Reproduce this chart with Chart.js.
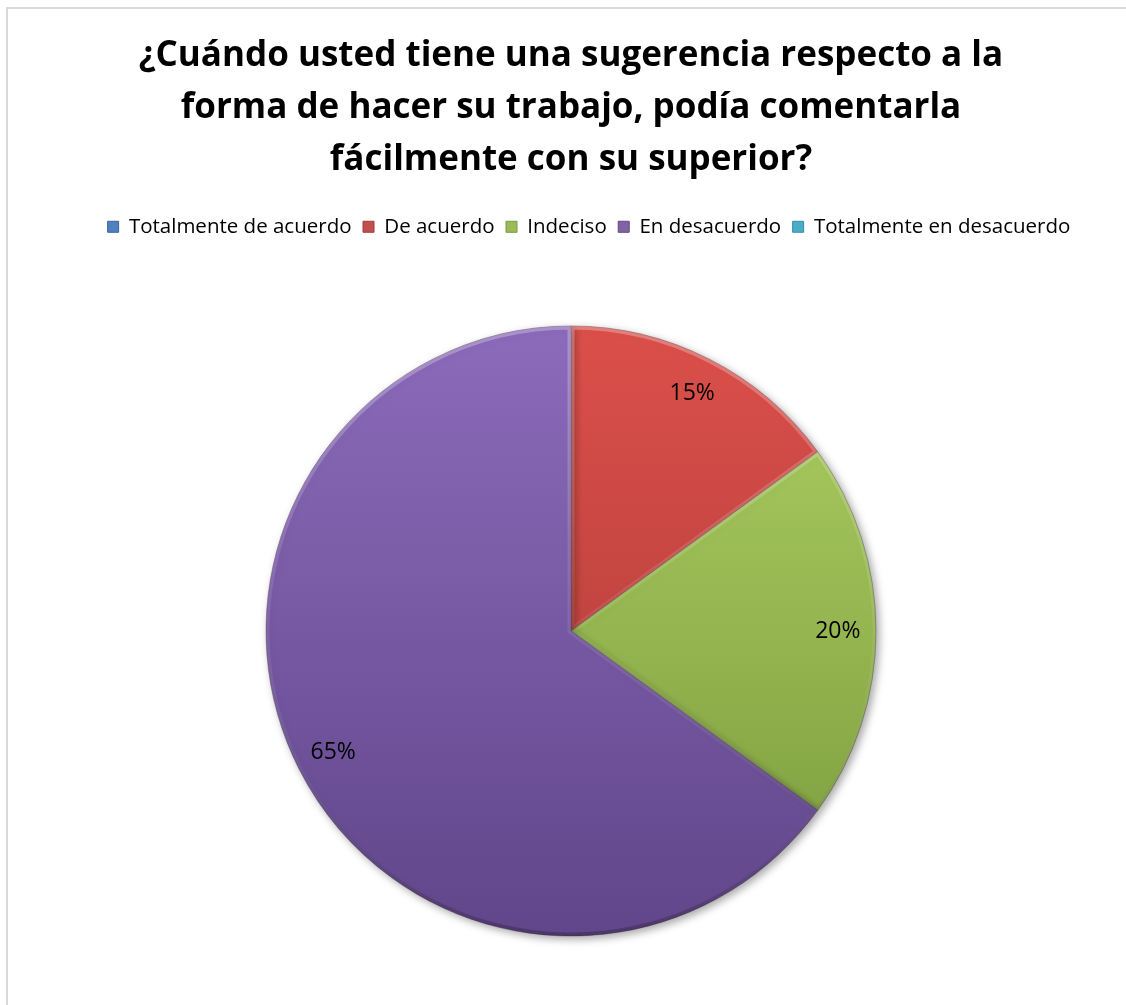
<!DOCTYPE html>
<html>
<head>
<meta charset="utf-8">
<script src="https://cdn.jsdelivr.net/npm/chart.js@4/dist/chart.umd.min.js"></script>
<style>
  body { margin: 0; background: #fff; overflow: hidden; }
  #frame { position: absolute; left: 6px; top: 7px; width: 1200px; height: 1100px; border: 2px solid #d9d9d9; }
  #wrap { position: absolute; left: 0; top: 0; width: 1126px; height: 1015px; }
</style>
</head>
<body>
<div id="frame"></div>
<div id="wrap"><canvas id="myChart"></canvas></div>
<script>
var categories = ["Totalmente de acuerdo", "De acuerdo", "Indeciso", "En desacuerdo", "Totalmente en desacuerdo"]
var percents = [0, 15, 20, 65, 0]
var titleLines = ["¿Cuándo usted tiene una sugerencia respecto a la", "forma de hacer su trabajo, podía comentarla", "fácilmente con su superior?"]

// flat colours for the legend, light/dark pairs for the slice shading
var flat = ["#4f81bd", "#c0504d", "#9bbb59", "#8064a2", "#4bacc6"]
var light = ["#6b9bd6", "#dc4f4a", "#aed063", "#8b6bbb", "#66c4dd"]
var dark = ["#3a6497", "#a63a37", "#7a9a3c", "#61468a", "#348da5"]

function shade(ctx) {
  var area = ctx.chart.chartArea
  if (!area) return flat[ctx.dataIndex]
  var cy = (area.top + area.bottom) / 2
  var g = ctx.chart.ctx.createLinearGradient(0, cy - 305, 0, cy + 305)
  g.addColorStop(0, light[ctx.dataIndex])
  g.addColorStop(1, dark[ctx.dataIndex])
  return g
}

// legend row sits a little right of the title's centre
var legendNudge = {
  id: "legendNudge",
  afterLayout: function(chart) {
    chart.legend.left += 18
    chart.legend.right += 18
  }
}

// soft drop shadow under the pie
var pieShadow = {
  id: "pieShadow",
  beforeDatasetsDraw: function(chart) {
    var c = chart.ctx
    c.save()
    c.shadowColor = "rgba(0,0,0,0.35)"
    c.shadowBlur = 8
    c.shadowOffsetX = 3
    c.shadowOffsetY = 3
  },
  afterDatasetsDraw: function(chart) {
    chart.ctx.restore()
  }
}

// bevelled rim inside each slice: light on top, dark below
var sliceBevel = {
  id: "sliceBevel",
  afterDatasetsDraw: function(chart) {
    var c = chart.ctx
    chart.getDatasetMeta(0).data.forEach(function(arc, i) {
      if (!percents[i]) return
      c.save()
      c.beginPath()
      c.moveTo(arc.x, arc.y)
      c.arc(arc.x, arc.y, arc.outerRadius, arc.startAngle, arc.endAngle)
      c.closePath()
      c.clip()
      var g = c.createLinearGradient(0, arc.y - arc.outerRadius, 0, arc.y + arc.outerRadius)
      g.addColorStop(0, "rgba(255,255,255,0.28)")
      g.addColorStop(0.5, "rgba(255,255,255,0.08)")
      g.addColorStop(1, "rgba(0,0,0,0.22)")
      c.strokeStyle = g
      c.lineWidth = 7
      c.lineJoin = "round"
      c.stroke()
      c.restore()
    })
  }
}

var percentLabels = {
  id: "percentLabels",
  afterDatasetsDraw: function(chart) {
    var c = chart.ctx
    var meta = chart.getDatasetMeta(0)
    c.save()
    c.font = "23px 'Open Sans'"
    c.fillStyle = "#000"
    c.textAlign = "center"
    c.textBaseline = "middle"
    meta.data.forEach(function(arc, i) {
      if (!percents[i]) return
      var mid = (arc.startAngle + arc.endAngle) / 2
      var r = arc.outerRadius * 0.875
      c.fillText(percents[i] + "%", arc.x + Math.cos(mid) * r, arc.y + Math.sin(mid) * r)
    })
    c.restore()
  }
}

document.addEventListener("DOMContentLoaded", function() {
  var ctx = document.getElementById("myChart")
  new Chart(ctx, {
    type: "pie",
    data: {
      labels: categories,
      datasets: [{
        data: percents,
        radius: 305,
        backgroundColor: shade,
        borderColor: "rgba(70,50,70,0.4)",
        borderWidth: function(c) { return percents[c.dataIndex] ? 1 : 0 }
      }]
    },
    options: {
      responsive: true,
      maintainAspectRatio: false,
      animation: false,
      layout: { padding: { left: 16, right: 0, top: 0, bottom: 0 } },
      plugins: {
        tooltip: { enabled: false },
        title: {
          display: true,
          text: titleLines,
          color: "#000",
          font: { family: "'Open Sans'", size: 35, weight: "bold", lineHeight: 1.486 },
          padding: { top: 30, bottom: 19 }
        },
        legend: {
          position: "top",
          labels: {
            color: "#595959",
            font: { family: "'Open Sans'", size: 20.5 },
            boxWidth: 11,
            boxHeight: 11,
            padding: 11.5,
            generateLabels: function(chart) {
              return categories.map(function(name, i) {
                return { text: name, fillStyle: flat[i], strokeStyle: dark[i], lineWidth: 1, index: i, hidden: false }
              })
            }
          }
        }
      }
    },
    plugins: [legendNudge, pieShadow, sliceBevel, percentLabels]
  })
})
</script>
</body>
</html>
